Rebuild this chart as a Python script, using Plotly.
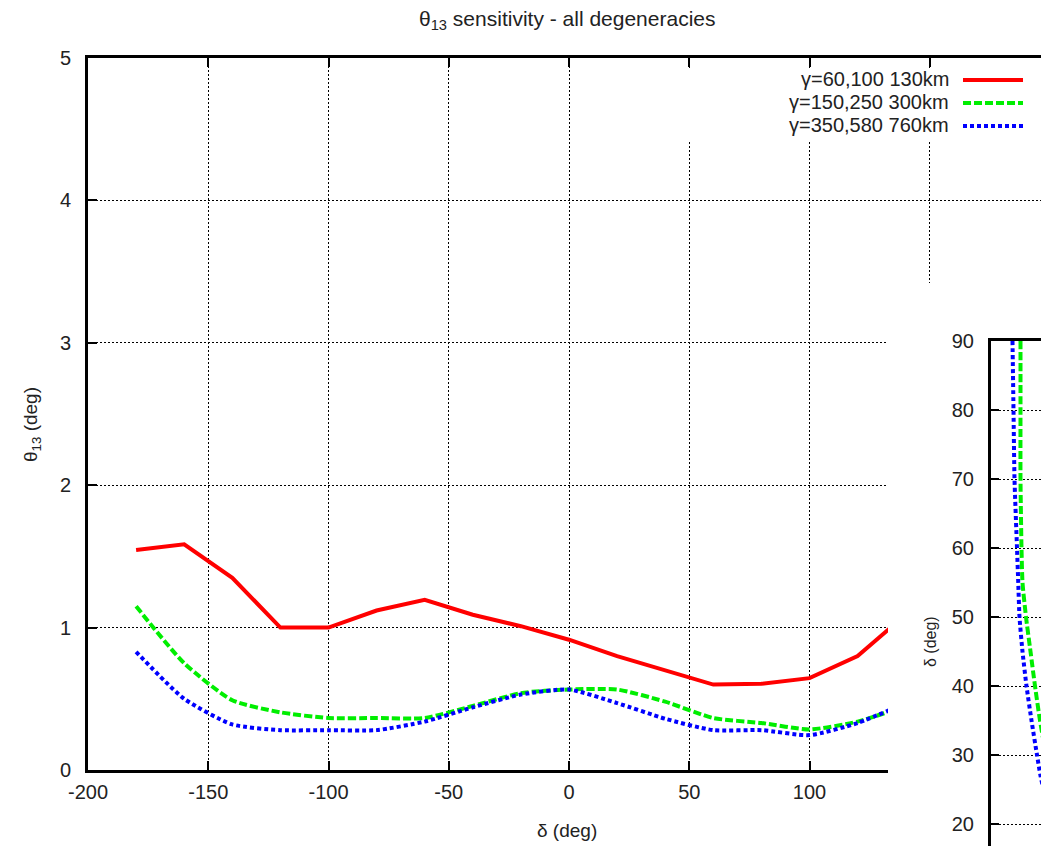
import plotly.graph_objects as go

# ---------------- data ----------------
delta_deg = [-180, -160, -140, -120, -100, -80, -60, -40, -20, 0, 20, 40, 60, 80, 100, 120, 140]
theta_g60_130km = [1.545, 1.585, 1.35, 1.0, 1.0, 1.12, 1.195, 1.09, 1.01, 0.915, 0.80, 0.70, 0.60, 0.605, 0.645, 0.80, 1.09]
theta_g150_300km = [1.15, 0.75, 0.49, 0.405, 0.365, 0.365, 0.365, 0.45, 0.54, 0.565, 0.565, 0.48, 0.365, 0.33, 0.285, 0.34, 0.45]
theta_g350_760km = [0.83, 0.50, 0.32, 0.28, 0.28, 0.28, 0.34, 0.44, 0.53, 0.565, 0.47, 0.36, 0.28, 0.28, 0.245, 0.33, 0.47]

series_names = ["γ=60,100 130km", "γ=150,250 300km", "γ=350,580 760km"]

x_ticks = [-200, -150, -100, -50, 0, 50, 100, 150]
x_tick_labels = ["-200", "-150", "-100", "-50", "0", "50", "100", "150"]
y_ticks = [0, 1, 2, 3, 4, 5]

# second (partially visible) panel
inset_delta = [90, 80, 70, 60, 55, 50, 45, 40, 35, 30, 27, 24]
inset_green_x = [0.59, 0.59, 0.59, 0.61, 0.63, 0.70, 0.79, 0.88, 0.98, 1.10, 1.18, 1.26]
inset_blue_x = [0.43, 0.45, 0.47, 0.52, 0.545, 0.57, 0.63, 0.71, 0.81, 0.92, 0.99, 1.08]
inset_y_ticks = [20, 30, 40, 50, 60, 70, 80, 90]

# ---------------- layout geometry ----------------
W, H = 1041, 846
FONT = "Liberation Sans, Arial, sans-serif"
colors = ["#ff0000", "#00ee00", "#0000ff"]
dashes = ["solid", "8px,3px", "4px,3px"]

x0_px, x_right_px, x_end_px = 88, 888, 1041
y_top_px, y_bot_px = 58, 770
x_zero_px, px_per_x = 569, 2.405
px_per_y = (y_bot_px - y_top_px) / 5.0

def px2x(p):
    return (p - x_zero_px) / px_per_x

def px2y(p):
    return (y_bot_px - p) / px_per_y

fig = go.Figure()

for vals, name, c, d in zip([theta_g60_130km, theta_g150_300km, theta_g350_760km], series_names, colors, dashes):
    fig.add_trace(go.Scatter(x=delta_deg, y=vals, mode="lines", name=name,
                             line=dict(color=c, width=4, dash=d,
                                       shape="linear" if c == "#ff0000" else "spline", smoothing=0.6),
                             xaxis="x", yaxis="y", showlegend=False, cliponaxis=True))

fig.add_trace(go.Scatter(x=inset_green_x, y=inset_delta, mode="lines",
                         line=dict(color=colors[1], width=4, dash=dashes[1], shape="spline", smoothing=0.6),
                         xaxis="x2", yaxis="y2", showlegend=False))
fig.add_trace(go.Scatter(x=inset_blue_x, y=inset_delta, mode="lines",
                         line=dict(color=colors[2], width=4, dash=dashes[2], shape="spline", smoothing=0.6),
                         xaxis="x2", yaxis="y2", showlegend=False))

fig.add_trace(go.Scatter(x=[None], y=[None], xaxis="x3", yaxis="y3", showlegend=False))

grid = dict(showgrid=True, gridcolor="black", gridwidth=1, griddash="2px,2px", zeroline=False, automargin=False)
tickfont = dict(family=FONT, size=20, color="#222")

fig.update_layout(
    width=W, height=H, margin=dict(l=0, r=0, t=0, b=0, autoexpand=False),
    paper_bgcolor="white", plot_bgcolor="rgba(0,0,0,0)",
    showlegend=False,
    xaxis=dict(domain=[x0_px / W, x_right_px / W], range=[px2x(x0_px), px2x(x_right_px)],
               tickvals=x_ticks, ticktext=x_tick_labels, ticks="inside", ticklen=9, tickwidth=2,
               tickcolor="black", showline=True, linecolor="black", linewidth=3, mirror="ticks",
               tickfont=tickfont, anchor="y", ticklabelstandoff=2, **grid),
    yaxis=dict(domain=[1 - y_bot_px / H, 1 - y_top_px / H], range=[0, 5],
               tickvals=y_ticks, ticks="inside", ticklen=9, tickwidth=2, tickcolor="black",
               showline=True, linecolor="black", linewidth=3, mirror=False,
               tickfont=tickfont, anchor="x", ticklabelstandoff=10, **grid),
    xaxis3=dict(domain=[x_right_px / W, 1], range=[px2x(x_right_px), px2x(x_end_px)],
                tickvals=x_ticks, side="top", ticks="inside", ticklen=9, tickwidth=2, tickcolor="black",
                showline=True, linecolor="black", linewidth=3, showticklabels=False,
                anchor="y3", **grid),
    yaxis3=dict(domain=[1 - 283 / H, 1 - y_top_px / H], range=[px2y(283), 5],
                tickvals=y_ticks, showticklabels=False, ticks="", showline=False,
                anchor="x3", **grid),
    xaxis2=dict(domain=[991 / W, 1], range=[0, 1], side="top", showline=True, linecolor="black",
                linewidth=3, showticklabels=False, ticks="", showgrid=False, zeroline=False,
                automargin=False, anchor="y2"),
    yaxis2=dict(domain=[0, 1 - 341 / H], range=[90 - (846 - 341) / 6.9, 90],
                tickvals=inset_y_ticks, ticks="inside", ticklen=8, tickwidth=2, tickcolor="black",
                showline=True, linecolor="black", linewidth=3, tickfont=tickfont,
                anchor="x2", ticklabelstandoff=10, **grid),
)

fig.add_shape(type="rect", xref="paper", yref="paper", layer="above",
              x0=620 / W, x1=1, y0=1 - 141 / H, y1=1 - 68 / H,
              fillcolor="white", line=dict(width=0))

key_rows_px = [79, 102, 125]
for name, c, d, yp in zip(series_names, colors, dashes, key_rows_px):
    fig.add_shape(type="line", xref="paper", yref="paper", layer="above",
                  x0=963 / W, x1=1023 / W, y0=1 - (yp + 1) / H, y1=1 - (yp + 1) / H,
                  line=dict(color=c, width=4, dash=d))
    fig.add_annotation(xref="paper", yref="paper", x=951 / W, y=1 - yp / H,
                       text=name, showarrow=False, xanchor="right", yanchor="middle",
                       font=dict(family=FONT, size=20, color="#222"))

fig.add_annotation(xref="paper", yref="paper", x=567 / W, y=1 - 20 / H,
                   text="θ<sub>13</sub> sensitivity - all degeneracies", showarrow=False,
                   xanchor="center", yanchor="middle", font=dict(family=FONT, size=21, color="#222"))
fig.add_annotation(xref="paper", yref="paper", x=32 / W, y=1 - 425 / H,
                   text="θ<sub>13</sub> (deg)", showarrow=False, textangle=-90,
                   xanchor="center", yanchor="middle", font=dict(family=FONT, size=19, color="#222"))
fig.add_annotation(xref="paper", yref="paper", x=567 / W, y=1 - 830 / H,
                   text="δ (deg)", showarrow=False,
                   xanchor="center", yanchor="middle", font=dict(family=FONT, size=19, color="#222"))
fig.add_annotation(xref="paper", yref="paper", x=930 / W, y=1 - 642 / H,
                   text="δ (deg)", showarrow=False, textangle=-90,
                   xanchor="center", yanchor="middle", font=dict(family=FONT, size=16, color="#222"))

fig.write_html("out.html")
